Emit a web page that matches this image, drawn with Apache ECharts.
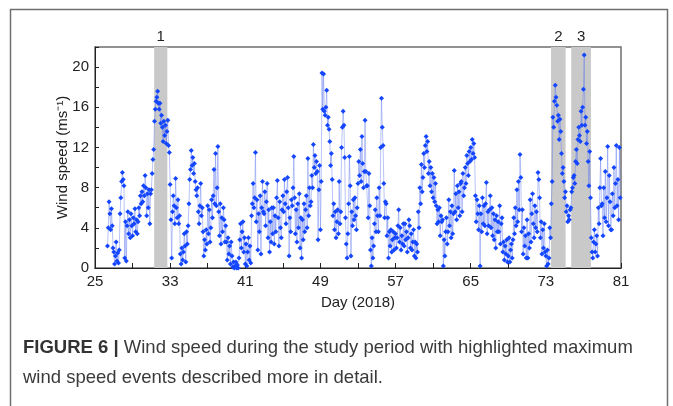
<!DOCTYPE html>
<html>
<head>
<meta charset="utf-8">
<script src="https://cdn.jsdelivr.net/npm/echarts@6/dist/echarts.min.js"></script>
<style>
html,body{margin:0;padding:0;background:#fff;}
#chart{width:673px;height:406px;}
</style>
</head>
<body>
<div id="chart"></div>
<script>
// ---- data ----
const firstDay = 26;          // day of first row
const samplesPerDay = 12;     // 2-hourly readings
const windSpeed = [
  [null, null, null, null, 2.2, 4.0, 6.6, 5.4, 3.8, 5.9, 4.2, 2.0],      // 26
  [1.6, 0.4, 1.2, 2.6, 0.7, 1.5, 0.5, 1.8, 5.4, 7.0, 8.6, 9.5],          // 27
  [8.8, 8.2, 1.0, 4.6, 0.7, 4.2, 5.6, 3.4, 4.8, 3.0, 5.4, 4.2],          // 28
  [3.2, 5.0, 4.4, 5.9, 3.6, 4.8, 3.4, 4.6, 6.0, 5.2, 7.2, 6.4],          // 29
  [7.6, 6.6, 8.2, 7.2, 9.2, 8.0, 5.2, 7.4, 6.0, 7.8, 4.4, 7.4],          // 30
  [7.8, 9.4, 10.8, 11.8, 14.6, 15.8, 16.6, 17.0, 17.6, 16.4, 15.8, 16.4],// 31
  [14.4, 15.2, 14.0, 12.6, 14.6, 13.2, 14.2, 12.4, 13.6, 14.7, 12.2, 11.5], // 32
  [8.3, 4.8, 1.0, 5.6, 7.2, 6.2, 4.4, 8.9, 6.0, 5.0, 6.8, 4.4],          // 33
  [5.2, 1.4, 0.4, 2.0, 0.8, 1.6, 3.4, 2.2, 0.6, 3.6, 2.4, 4.2],          // 34
  [6.4, 8.8, 9.8, 11.7, 10.2, 11.0, 9.4, 10.4, 8.6, 7.8, 7.2, 8.0],      // 35
  [5.6, 4.4, 6.2, 8.4, 5.2, 6.0, 3.6, 1.2, 2.8, 1.8, 3.8, 2.4],          // 36
  [6.2, 3.4, 5.8, 2.6, 4.0, 6.8, 5.0, 7.2, 9.8, 6.4, 11.4, 6.2],         // 37
  [8.0, 12.1, 5.6, 3.2, 6.4, 2.4, 5.0, 3.6, 6.0, 4.8, 2.6, 4.2],         // 38
  [2.6, 0.8, 3.0, 1.4, 2.2, 0.4, 2.6, 1.2, 0.1, 0.6, 0.0, 0.2],          // 39
  [0.6, 0.0, 0.3, 0.0, 1.0, 2.8, 4.4, 2.0, 3.6, 4.6, 1.6, 3.0],          // 40
  [0.4, 2.4, 0.2, 1.6, 3.0, 0.8, 2.2, 0.5, 5.2, 6.4, 8.4, 6.0],          // 41
  [7.0, 11.5, 4.6, 6.8, 1.8, 5.4, 3.6, 7.2, 1.4, 6.0, 8.6, 5.6],         // 42
  [5.4, 7.6, 4.2, 6.6, 8.4, 3.0, 5.8, 1.6, 4.6, 2.6, 6.0, 3.4],          // 43
  [6.0, 2.4, 5.2, 3.6, 7.0, 8.7, 5.0, 2.2, 6.6, 4.0, 3.0, 5.8],          // 44
  [7.2, 5.6, 8.8, 6.4, 4.4, 7.6, 9.0, 6.0, 1.2, 5.0, 3.6, 6.8],          // 45
  [6.2, 8.0, 11.1, 7.0, 3.4, 5.8, 2.6, 6.4, 4.0, 7.4, 2.0, 5.0],         // 46
  [1.0, 4.8, 2.8, 6.4, 3.6, 5.8, 7.2, 4.0, 10.9, 5.2, 8.0, 6.2],         // 47
  [6.6, 9.2, 8.0, 12.3, 10.0, 11.2, 9.4, 10.6, 9.6, 2.8, 7.8, 10.2],     // 48
  [3.8, 8.6, 19.4, 15.8, 19.3, 15.6, 15.2, 16.0, 17.7, 14.2, 15.0, 13.8],// 49
  [12.6, 10.2, 11.4, 8.8, 5.2, 6.4, 3.8, 5.6, 3.0, 4.6, 5.8, 3.4],       // 50
  [8.6, 4.4, 5.6, 12.0, 14.0, 15.6, 14.2, 11.0, 5.0, 2.4, 1.0, 3.4],     // 51
  [6.4, 11.1, 8.2, 1.2, 5.6, 4.2, 6.8, 4.8, 7.0, 5.2, 3.8, 6.0],         // 52
  [8.4, 10.6, 9.2, 11.8, 8.6, 13.1, 10.4, 8.0, 9.6, 14.7, 9.6, 8.2],     // 53
  [8.2, 5.0, 9.4, 6.2, 1.8, 0.2, 3.0, 1.0, 2.2, 4.4, 5.8, 3.6],          // 54
  [7.0, 5.2, 3.6, 8.0, 5.2, 12.0, 16.9, 14.0, 12.2, 8.4, 5.0, 6.6],      // 55
  [6.4, 3.2, 5.0, 1.0, 3.6, 2.2, 3.8, 1.6, 2.8, 3.6, 1.8, 3.0],          // 56
  [3.4, 2.0, 3.0, 4.2, 5.8, 2.6, 4.0, 1.8, 3.2, 2.4, 4.4, 2.2],          // 57
  [4.4, 2.8, 3.6, 1.6, 3.0, 4.8, 4.2, 2.0, 3.4, 1.8, 2.6, 3.8],          // 58
  [1.2, 2.6, 1.0, 2.4, 1.6, 5.6, 4.0, 8.0, 6.4, 10.3, 7.6, 9.0],         // 59
  [11.4, 10.0, 12.2, 13.1, 11.6, 12.6, 9.4, 10.6, 8.2, 10.0, 7.6, 9.4],  // 60
  [7.0, 9.0, 6.6, 8.4, 6.2, 4.4, 5.8, 4.6, 6.0, 3.2, 5.2, 4.6],          // 61
  [4.8, 0.2, 2.8, 1.2, 3.6, 5.0, 2.4, 3.6, 6.8, 4.2, 5.6, 3.0],          // 62
  [6.2, 3.4, 5.4, 9.7, 5.6, 7.4, 4.8, 8.2, 6.0, 7.6, 5.2, 8.4],          // 63
  [8.6, 5.6, 9.4, 7.2, 8.0, 10.0, 8.4, 11.2, 10.4, 9.2, 11.6, 10.6],     // 64
  [12.0, 10.8, 12.8, 11.4, 12.4, 11.0, 7.2, 4.6, 6.8, 5.4, 3.8, 6.2],    // 65
  [0.2, 5.4, 3.6, 7.0, 4.4, 6.2, 4.2, 6.4, 8.5, 3.4, 5.6, 4.2],          // 66
  [5.8, 7.2, 4.0, 6.0, 3.2, 5.4, 2.8, 4.8, 2.0, 5.2, 3.6, 4.6],          // 67
  [3.6, 6.2, 2.4, 4.4, 5.0, 1.6, 2.6, 0.8, 2.2, 1.4, 2.8, 0.6],          // 68
  [1.2, 3.0, 0.6, 1.8, 2.4, 1.0, 2.8, 5.0, 3.4, 6.0, 4.2, 7.8],          // 69
  [4.6, 8.6, 5.8, 11.3, 9.0, 3.6, 5.8, 1.4, 4.0, 2.2, 3.2, 1.0],         // 70
  [4.8, 1.0, 3.4, 2.0, 6.8, 2.6, 5.4, 7.4, 4.4, 3.0, 6.2, 4.0],          // 71
  [5.6, 3.6, 9.5, 8.8, 7.0, 3.0, 4.6, 1.4, 3.8, 2.0, 4.4, 1.6],          // 72
  [1.2, 0.2, 1.8, 0.4, 1.0, 4.0, 3.0, 6.4, 8.6, 15.0, 14.0, 16.6],       // 73
  [18.2, 17.0, 16.2, 14.6, 15.2, 12.8, 14.8, 13.6, 11.4, 9.4, 10.0, 8.6],// 74
  [7.0, 7.6, 5.6, 6.2, 4.6, 5.2, 4.8, 5.8, 6.0, 7.6, 8.0, 9.0],          // 75
  [9.2, 8.4, 10.6, 11.8, 10.4, 12.8, 14.0, 13.2, 12.6, 15.6, 14.2, 16.0],// 76
  [17.8, 21.2, 14.2, 15.0, 12.4, 13.6, 10.6, 8.2, 11.6, 7.0, 3.0, 1.6],  // 77
  [1.0, 2.6, 3.8, 1.6, 2.4, 3.2, 1.2, 6.0, 4.4, 8.0, 10.9, 6.2],         // 78
  [6.4, 3.2, 8.0, 5.0, 9.6, 4.6, 7.0, 12.1, 4.2, 9.2, 6.6, 3.8],         // 79
  [3.8, 7.4, 5.2, 10.0, 6.0, 8.4, 12.2, 6.2, 8.8, 4.8, 12.0, 7.0]        // 80
];
const eventStart = [31.3, 73.55, 75.7];
const eventEnd = [32.7, 75.1, 77.8];
const eventLabels = ['1', '2', '3'];
const xTicks = [25, 33, 41, 49, 57, 65, 73, 81];
const yTicks = [0, 4, 8, 12, 16, 20];

// ---- build ----
const points = [];
windSpeed.forEach((row, r) => row.forEach((v, k) => {
  if (v !== null) points.push([firstDay + r + k / samplesPerDay, v]);
}));
const areas = eventStart.map((s, i) => [
  {xAxis: s, name: eventLabels[i]},
  {xAxis: eventEnd[i]}
]);

const font = '"Liberation Sans", Arial, Helvetica, sans-serif';
const chart = echarts.init(document.getElementById('chart'), null, {renderer: 'canvas'});
chart.setOption({
  animation: false,
  backgroundColor: '#fff',
  grid: {left: 95, top: 47, width: 526, height: 221, show: true,
         borderColor: '#6e6e6e', borderWidth: 1.5, backgroundColor: 'transparent'},
  xAxis: {
    type: 'value', min: 25, max: 81, interval: 4,
    name: 'Day (2018)', nameLocation: 'middle', nameGap: 27,
    nameTextStyle: {fontFamily: font, fontSize: 15, color: '#222'},
    axisLine: {lineStyle: {color: '#222', width: 1}},
    axisTick: {inside: true, length: 5, lineStyle: {color: '#222'}},
    axisLabel: {fontFamily: font, fontSize: 15, color: '#222', margin: 6,
      formatter: v => xTicks.indexOf(v) >= 0 ? String(v) : ''},
    splitLine: {show: false}
  },
  yAxis: {
    type: 'value', min: 0, max: 22, interval: 2,
    name: 'Wind speed (ms⁻¹)', nameLocation: 'middle', nameGap: 25,
    nameMoveOverlap: false,
    nameTextStyle: {fontFamily: font, fontSize: 15, color: '#222'},
    axisLine: {show: true, lineStyle: {color: '#222', width: 1}},
    axisTick: {show: true, inside: true, length: 4, lineStyle: {color: '#222'}},
    axisLabel: {fontFamily: font, fontSize: 15, color: '#222', margin: 6,
      formatter: v => yTicks.indexOf(v) >= 0 ? String(v) : ''},
    splitLine: {show: false}
  },
  series: [{
    type: 'line',
    data: points,
    symbol: 'diamond',
    symbolSize: 5,
    showAllSymbol: true,
    itemStyle: {color: '#1446ff'},
    lineStyle: {color: 'rgba(95,120,240,0.55)', width: 0.8},
    markArea: {
      silent: true,
      itemStyle: {color: '#c9c9c9'},
      label: {show: true, position: 'top', distance: 3, fontFamily: font,
              fontSize: 15, color: '#222'},
      data: areas
    }
  }],
  graphic: [
    {type: 'rect', shape: {x: 10.5, y: 9.5, width: 657, height: 420},
     style: {fill: 'none', stroke: '#6f6f6f', lineWidth: 1.5}, z: 100, silent: true},
    {type: 'text', left: 23, top: 338, z: 100,
     style: {text: '{b|FIGURE 6 |} Wind speed during the study period with highlighted maximum',
       rich: {b: {fontWeight: 'bold', fontFamily: font, fontSize: 18.5, fill: '#333'}},
       fontFamily: font, fontSize: 18.5, fill: '#3a3a3a'}},
    {type: 'text', left: 23, top: 368, z: 100,
     style: {text: 'wind speed events described more in detail.',
       fontFamily: font, fontSize: 18.5, fill: '#3a3a3a'}}
  ]
});
</script>
</body>
</html>
